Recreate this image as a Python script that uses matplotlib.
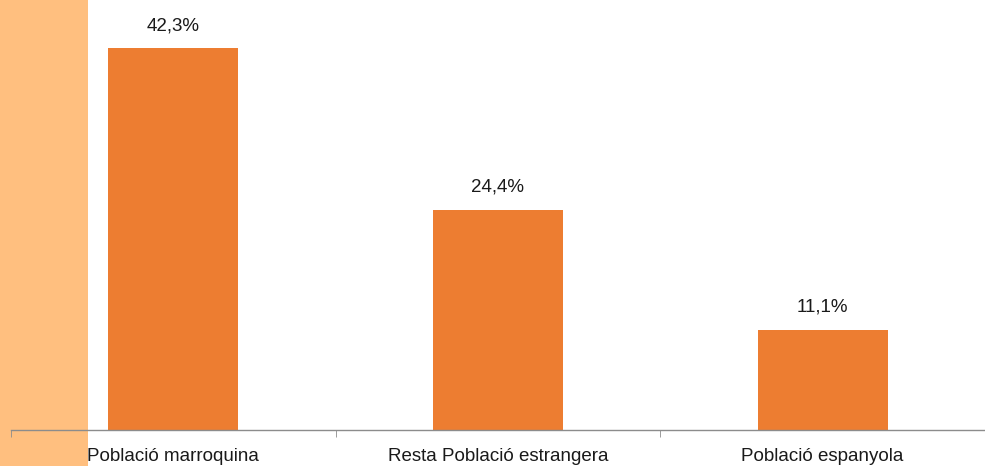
import matplotlib
matplotlib.use("Agg")
import matplotlib.pyplot as plt
from matplotlib.patches import Rectangle

categories = ["Població marroquina", "Resta Població estrangera", "Població espanyola"]
values = [42.3, 24.4, 11.1]
value_labels = ["42,3%", "24,4%", "11,1%"]

BAR_COLOR = "#ED7D31"
STRIP_COLOR = "#FFBF7F"
AXIS_COLOR = "#8C8C8C"

plt.rcParams["font.family"] = ["Liberation Sans", "DejaVu Sans"]

W, H = 985, 466
fig = plt.figure(figsize=(W / 100, H / 100), dpi=100)
fig.patch.set_facecolor("white")

# light orange strip on the far left, full height
fig.add_artist(Rectangle((0, 0), 88 / W, 1, transform=fig.transFigure,
                         facecolor=STRIP_COLOR, edgecolor="none", zorder=0))

base_px = 430
ax = fig.add_axes([0, (H - base_px) / H, 1, base_px / H])
ax.patch.set_alpha(0)

px_per_cat = 328.5
x0 = -0.5 - 11 / px_per_cat
ax.set_xlim(x0, x0 + W / px_per_cat)
ax.set_ylim(0, base_px / 9.03)

xs = range(len(categories))
bars = ax.bar(xs, values, width=0.4, color=BAR_COLOR, zorder=2)
for b, lab in zip(bars, value_labels):
    ax.annotate(lab, (b.get_x() + b.get_width() / 2, b.get_height()),
                xytext=(0, 10), textcoords="offset points",
                ha="center", va="bottom", fontsize=13.5, color="#1a1a1a")

for s in ["top", "left", "right"]:
    ax.spines[s].set_visible(False)
ax.spines["bottom"].set_color(AXIS_COLOR)
ax.spines["bottom"].set_linewidth(1.0)
ax.spines["bottom"].set_bounds(-0.5, len(categories) - 0.5)
ax.spines["bottom"].set_zorder(3)

ax.set_yticks([])
ax.set_xticks(list(xs))
ax.set_xticklabels(categories, fontsize=13.5, color="#1a1a1a")
ax.tick_params(axis="x", which="major", length=0, pad=13)
ax.set_xticks([i - 0.5 for i in range(len(categories) + 1)], minor=True)
ax.tick_params(axis="x", which="minor", length=5, color=AXIS_COLOR, direction="out")

fig.savefig("out.png", dpi=100)
